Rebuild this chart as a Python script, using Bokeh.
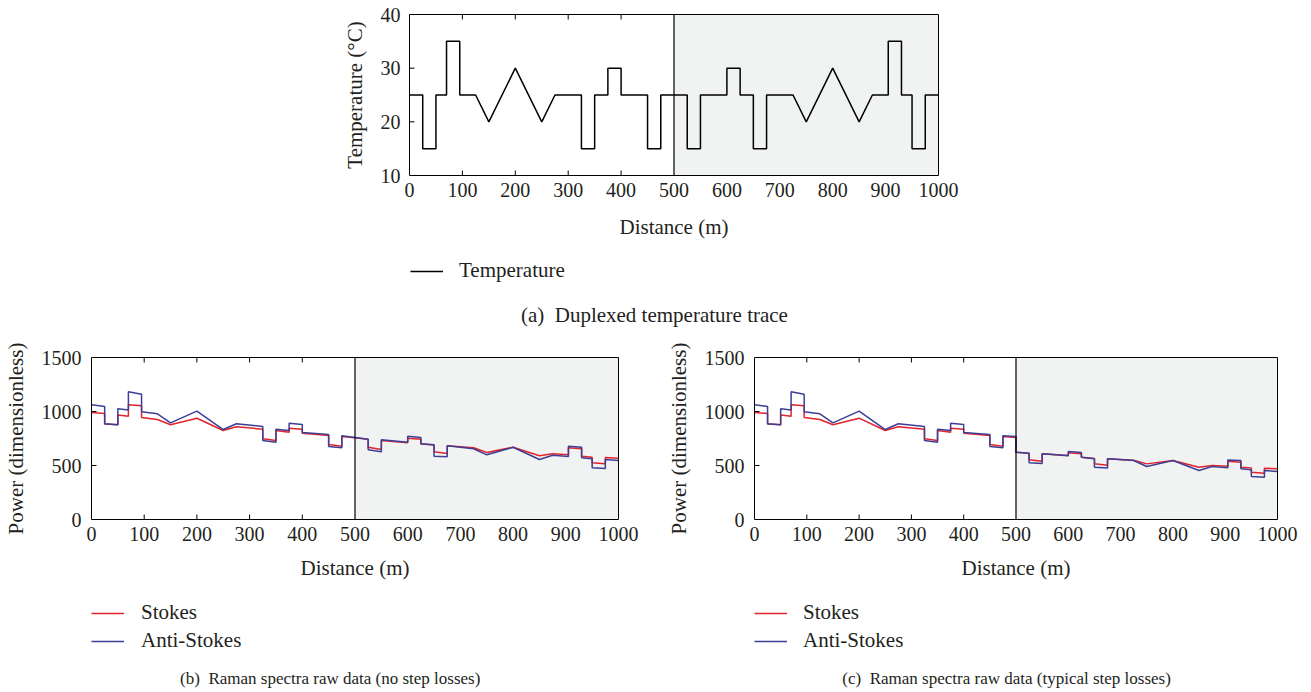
import numpy as np
from bokeh.plotting import figure
from bokeh.models import (FixedTicker, LinearAxis, Span, Legend, LegendItem, Label, Range1d)
from bokeh.layouts import column, row
from bokeh.embed import file_html
from bokeh.resources import INLINE

# ---------------- data ----------------
distance = [0, 25, 25, 50, 50, 70, 70, 95, 95, 125, 150, 200, 250, 275, 325, 325,
            350, 350, 375, 375, 400, 400, 450, 450, 475, 475, 500, 500, 525, 525,
            550, 550, 600, 600, 625, 625, 650, 650, 675, 675, 725, 750, 800, 850,
            875, 905, 905, 930, 930, 950, 950, 975, 975, 1000]

temperature = [25, 25, 15, 15, 25, 25, 35, 35, 25, 25, 20, 30, 20, 25, 25, 15,
               15, 25, 25, 30, 30, 25, 25, 15, 15, 25, 25, 25, 25, 15,
               15, 25, 25, 30, 30, 25, 25, 15, 15, 25, 25, 20, 30, 20,
               25, 25, 35, 35, 25, 25, 15, 15, 25, 25]

stokes_b = [991, 981, 885, 877, 967, 955, 1062, 1053, 944, 926, 877, 938, 824, 858, 836, 747,
            731, 824, 808, 846, 836, 799, 778, 694, 679, 769, 757, 757, 744, 669,
            648, 731, 710, 753, 744, 700, 690, 627, 611, 682, 664, 620, 669, 590,
            608, 599, 664, 655, 586, 577, 525, 516, 574, 568]

anti_stokes_b = [1062, 1046, 887, 877, 1025, 1015, 1182, 1160, 997, 979, 895, 1003, 833, 886, 861, 731,
                 716, 836, 824, 892, 880, 806, 787, 676, 664, 775, 760, 760, 744, 645,
                 627, 738, 716, 771, 759, 701, 692, 586, 580, 682, 655, 599, 669, 556,
                 595, 583, 679, 669, 571, 562, 479, 472, 556, 546]

stokes_c = [991, 981, 885, 877, 967, 955, 1062, 1053, 944, 926, 877, 938, 824, 858, 836, 747,
            731, 824, 808, 846, 836, 799, 778, 694, 679, 769, 760, 623, 614, 553,
            540, 608, 592, 617, 608, 577, 565, 516, 503, 562, 548, 515, 546, 484,
            500, 494, 540, 531, 484, 478, 438, 429, 475, 469]

anti_stokes_c = [1062, 1046, 887, 877, 1025, 1015, 1182, 1160, 997, 979, 895, 1003, 833, 886, 861, 731,
                 716, 836, 824, 892, 880, 806, 787, 676, 664, 775, 768, 623, 614, 525,
                 518, 608, 590, 630, 620, 577, 562, 484, 478, 562, 546, 491, 546, 454,
                 491, 478, 552, 546, 469, 460, 398, 392, 454, 444]

x_ticks = [0, 100, 200, 300, 400, 500, 600, 700, 800, 900, 1000]
temp_ticks = [10, 20, 30, 40]
power_ticks = [0, 500, 1000, 1500]
turnaround = 500

# ---------------- style ----------------
FONT = "Liberation Serif"
FS_TICK = "20px"
FS = "21px"
FS_CAP_SMALL = "17px"
TXT = "#231f20"
SHADE = "#f1f2f2"
RED = "#e3232b"
BLUE = "#3d3f96"


def base_fig(width, height, mbl, mbr, mbt, mbb, yticks, ylabel, ylab_standoff, lab_standoff, xlab_standoff):
    p = figure(width=width, height=height,
               x_range=Range1d(x_ticks[0], x_ticks[-1]),
               y_range=Range1d(yticks[0], yticks[-1]),
               output_backend="svg", toolbar_location=None,
               min_border_left=mbl, min_border_right=mbr,
               min_border_top=mbt, min_border_bottom=mbb,
               outline_line_color=None, background_fill_color="white",
               border_fill_color="white")
    p.grid.visible = False
    y0, y1 = yticks[0], yticks[-1]
    # shaded second half of the duplexed fibre
    p.quad(left=[turnaround], right=[x_ticks[-1]], bottom=[y0], top=[y1],
           fill_color=SHADE, line_color=None)
    # inward ticks in the unshaded region
    xin = [t for t in x_ticks if x_ticks[0] < t < turnaround]
    yin = [t for t in yticks if y0 < t < y1]
    p.scatter(x=xin + xin, y=[y0] * len(xin) + [y1] * len(xin), marker="dash",
              size=10, angle=np.pi / 2, line_color="black", line_width=1)
    p.scatter(x=[x_ticks[0]] * len(yin), y=yin, marker="dash", size=10,
              line_color="black", line_width=1)

    for ax, ticks in ((p.xaxis[0], x_ticks), (p.yaxis[0], yticks)):
        ax.ticker = FixedTicker(ticks=ticks)
        ax.major_tick_in = 0
        ax.major_tick_out = 0
        ax.minor_tick_in = 0
        ax.minor_tick_out = 0
        ax.axis_line_color = "black"
        ax.axis_line_width = 1
        ax.major_label_text_font = FONT
        ax.major_label_text_font_size = FS_TICK
        ax.major_label_text_color = TXT
        ax.axis_label_text_font = FONT
        ax.axis_label_text_font_size = FS
        ax.axis_label_text_font_style = "normal"
        ax.axis_label_text_color = TXT
    p.xaxis[0].axis_label = "Distance (m)"
    p.yaxis[0].axis_label = ylabel
    p.xaxis[0].major_label_standoff = 7
    p.xaxis[0].axis_label_standoff = xlab_standoff
    p.yaxis[0].major_label_standoff = lab_standoff
    p.yaxis[0].axis_label_standoff = ylab_standoff
    for side in ("above", "right"):
        p.add_layout(LinearAxis(ticker=FixedTicker(ticks=[]), axis_line_color="black",
                                axis_line_width=1, major_tick_in=0, major_tick_out=0,
                                minor_tick_in=0, minor_tick_out=0), side)
    return p


def footer(width, height, mbl, mbr):
    # legend / caption strip; frame lined up with the chart frame above it
    f = figure(width=width, height=height,
               x_range=Range1d(x_ticks[0], x_ticks[-1]),
               y_range=Range1d(height, 0), x_axis_type=None, y_axis_type=None,
               output_backend="svg", toolbar_location=None,
               min_border_left=mbl, min_border_right=mbr,
               min_border_top=0, min_border_bottom=0,
               outline_line_color=None, background_fill_color="white",
               border_fill_color="white")
    f.grid.visible = False
    return f


def add_legend(f, entries, loc, lsd):
    items = []
    for label, color in entries:
        r = f.line(x=np.array([np.nan, np.nan]), y=np.array([np.nan, np.nan]),
                   line_color=color, line_width=1.5)
        items.append(LegendItem(label=label, renderers=[r]))
    f.add_layout(Legend(items=items, location=loc, orientation="vertical",
                        border_line_color=None, background_fill_alpha=0,
                        padding=0, margin=0, spacing=3, glyph_width=33, glyph_height=24,
                        label_height=24, label_standoff=lsd,
                        label_text_font=FONT, label_text_font_size=FS,
                        label_text_color=TXT))


def add_caption(f, text, x, y, size=FS):
    f.add_layout(Label(x=x, y=y, text=text, text_align="center", text_baseline="middle",
                       text_font=FONT, text_font_size=size, text_color=TXT))


# ---------------- (a) temperature ----------------
pa = base_fig(1311, 245, 409, 373, 14, 70, temp_ticks, "Temperature (°C)", 11, 9, 15)
pa.line(distance, temperature, line_color="black", line_width=1.5)
pa.add_layout(Span(location=turnaround, dimension="height", line_color="black", line_width=1.2))
fa = footer(1311, 90, 409, 373)
add_legend(fa, [("Temperature", "black")], (1, 52), 16)
add_caption(fa, "(a)\u00a0 Duplexed temperature trace", 463, 69)

# ---------------- (b) no step losses ----------------
pb = base_fig(663, 255, 90, 45, 22, 71, power_ticks, "Power (dimensionless)", 11, 10, 12)
pb.line(distance, stokes_b, line_color=RED, line_width=1.5)
pb.line(distance, anti_stokes_b, line_color=BLUE, line_width=1.5)
pb.add_layout(Span(location=turnaround, dimension="height", line_color="black", line_width=1.2))
fb = footer(663, 100, 90, 45)
add_legend(fb, [("Stokes", RED), ("Anti-Stokes", BLUE)], (0, 37), 17)
add_caption(fb, "(b)\u00a0 Raman spectra raw data (no step losses)", 453, 88, FS_CAP_SMALL)

# ---------------- (c) typical step losses ----------------
pc = base_fig(648, 255, 85, 34, 22, 71, power_ticks, "Power (dimensionless)", 11, 10, 12)
pc.line(distance, stokes_c, line_color=RED, line_width=1.5)
pc.line(distance, anti_stokes_c, line_color=BLUE, line_width=1.5)
pc.add_layout(Span(location=turnaround, dimension="height", line_color="black", line_width=1.2))
fc = footer(648, 100, 85, 34)
add_legend(fc, [("Stokes", RED), ("Anti-Stokes", BLUE)], (0, 37), 16)
add_caption(fc, "(c)\u00a0 Raman spectra raw data (typical step losses)", 482, 88, FS_CAP_SMALL)

layout = column(pa, fa, row(column(pb, fb, spacing=0), column(pc, fc, spacing=0), spacing=0),
                spacing=0)
open("out.html", "w").write(file_html(layout, INLINE))
